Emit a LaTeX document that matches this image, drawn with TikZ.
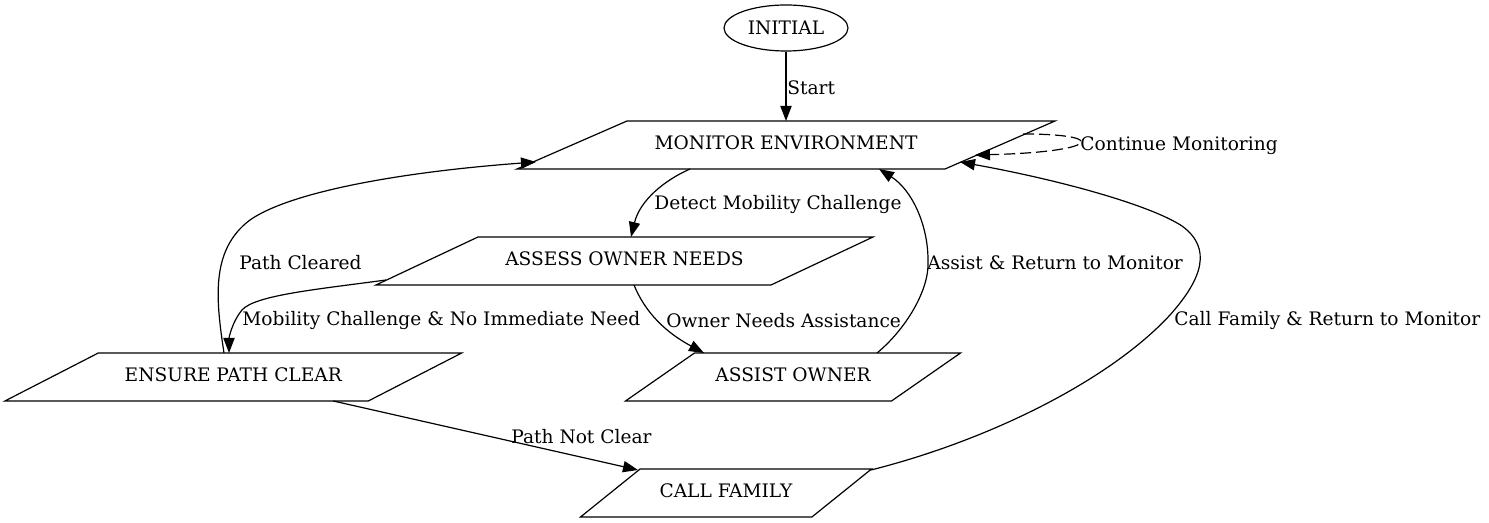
\documentclass[tikz,border=0pt]{standalone}
\usepackage{fontspec}
\setmainfont{DejaVu Serif}
\usetikzlibrary{shapes.geometric,arrows.meta,calc}
\newcommand\pgram[3]{\draw[shapeline] ($(#1)+(-#3+#2,-24)$) -- ($(#1)+(#3+#2,-24)$) -- ($(#1)+(#3-#2,24)$) -- ($(#1)+(-#3-#2,24)$) -- cycle;}
\begin{document}
\begin{tikzpicture}[x=0.5pt,y=-0.5pt,
  every node/.style={font=\fontsize{9.3}{11}\selectfont},
  shapeline/.style={line width=0.6pt},
  txt/.style={inner sep=0pt,text depth=2pt},
  lbl/.style={inner sep=0pt,anchor=west,yshift=-1.2pt},
  edge/.style={line width=0.6pt,-{Triangle[length=7.5pt,width=5.6pt]}},
  loopedge/.style={edge,dash pattern=on 5.5pt off 2.5pt}]
\useasboundingbox (0,0) rectangle (1489,523);
% nodes
\node[draw,ellipse,line width=0.6pt,minimum width=62pt,minimum height=23pt,inner sep=0pt] (init) at (786,28) {INITIAL};
\node[txt] (mon) at (786,145) {MONITOR ENVIRONMENT};
\pgram{mon}{55}{214}
\node[txt] (assess) at (624.5,261) {ASSESS OWNER NEEDS};
\pgram{assess}{51}{197.5}
\node[txt] (ensure) at (233.3,377) {ENSURE PATH CLEAR};
\pgram{ensure}{46.7}{181.7}
\node[txt] (assist) at (793,377) {ASSIST OWNER};
\pgram{assist}{34.5}{133}
\node[txt] (call) at (726,493) {CALL FAMILY};
\pgram{call}{29.8}{115.7}
% edges
\draw[edge] (init.south) -- ($(mon)+(0,-24)$);
\node[lbl] (lstart) at (787,85) {Start};

\draw[loopedge] ($(mon)+(237,-11)$) .. controls ($(mon)+(324,-11)$) and ($(mon)+(314,7)$) .. ($(mon)+(189,10)$);
\node[lbl] (lloop) at (1080,143) {Continue Monitoring};

\draw[edge] ($(mon)+(-96,24)$) .. controls (665,180) and (640,200) .. ($(assess)+(6.5,-24)$);
\node[lbl] (ldetect) at (654,202) {Detect Mobility Challenge};

\draw[edge] ($(assess)+(9.5,24)$) .. controls (645,312) and (665,332) .. ($(assist)+(-89,-24)$);
\node[lbl] (lowner) at (666,318) {Owner Needs Assistance};

\draw[edge] ($(assess)+(-238.5,19)$) .. controls (320,289) and (255,295) .. (242,310) .. controls (232,322) and (229,338) .. ($(ensure)+(-4.3,-24)$);
\node[lbl] (lmob) at (242,318) {Mobility Challenge \& No Immediate Need};

\draw[edge] ($(ensure)+(-9.3,-24)$) .. controls (216,300) and (210,250) .. (250,220) .. controls (290,192) and (400,172) .. ($(mon)+(-250,17)$);
\node[lbl] (lcleared) at (239,260) {Path Cleared};

\draw[edge] ($(assist)+(84,-24)$) .. controls (905,330) and (930,290) .. (928,260) .. controls (928,225) and (912,190) .. ($(mon)+(93,24)$);
\node[lbl] (lassist) at (927,260) {Assist \& Return to Monitor};

\draw[edge] ($(call)+(145,-23)$) .. controls (990,440) and (1110,380) .. (1170,315) .. controls (1203,278) and (1212,248) .. (1182,226) .. controls (1150,205) and (1060,180) .. ($(mon)+(174,17)$);
\node[lbl] (lcallret) at (1174,318) {Call Family \& Return to Monitor};

\draw[edge] ($(ensure)+(100,24)$) -- ($(call)+(-88,-23)$);
\node[lbl] (lnotclear) at (511,434) {Path Not Clear};
\end{tikzpicture}
\end{document}
